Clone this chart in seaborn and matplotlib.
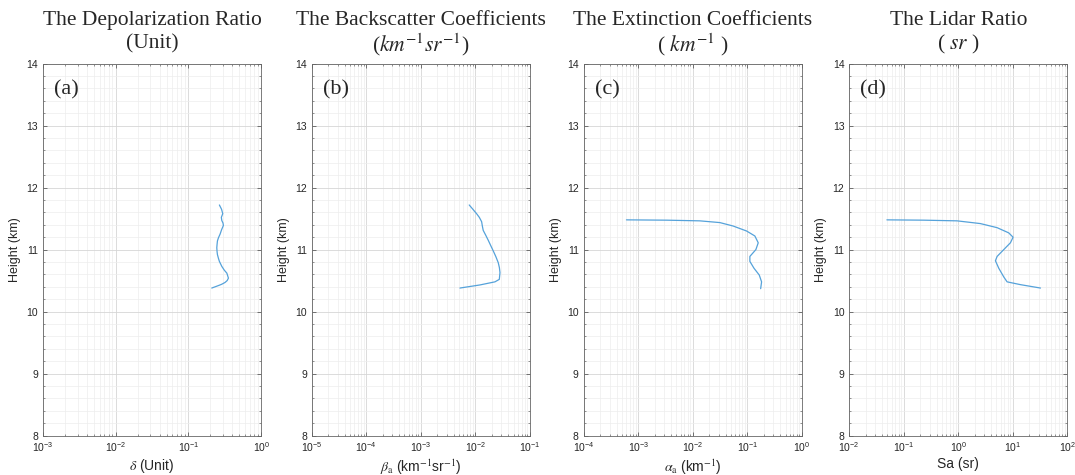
import numpy as np
import pandas as pd
import matplotlib
matplotlib.use('Agg')
import matplotlib.pyplot as plt
import matplotlib.ticker as mticker
import seaborn as sns

# --- data (height in km) ---
depol_h = [11.72, 11.65, 11.58, 11.52, 11.47, 11.43, 11.39, 11.32, 11.25, 11.19, 11.14,
           11.08, 11.03, 10.97, 10.92, 10.86, 10.81, 10.73, 10.67, 10.62, 10.54, 10.50,
           10.47, 10.44, 10.42, 10.38]
depol_x = [0.266, 0.285, 0.296, 0.283, 0.287, 0.298, 0.302, 0.285, 0.272, 0.258, 0.250,
           0.247, 0.245, 0.247, 0.250, 0.258, 0.266, 0.287, 0.310, 0.337, 0.354, 0.340,
           0.318, 0.285, 0.258, 0.209]

back_h = [11.72, 11.65, 11.58, 11.52, 11.45, 11.38, 11.31, 11.23, 11.15, 11.06, 10.98,
          10.89, 10.79, 10.71, 10.63, 10.52, 10.48, 10.43, 10.38]
back_x = [0.0077, 0.0090, 0.0105, 0.0118, 0.0130, 0.0134, 0.0139, 0.0155, 0.0172, 0.0192,
          0.0212, 0.0236, 0.0262, 0.0275, 0.0282, 0.0274, 0.0228, 0.0121, 0.0052]

ext_h = [11.48, 11.475, 11.464, 11.436, 11.38, 11.30, 11.22, 11.11, 11.00, 10.89, 10.81,
         10.70, 10.59, 10.48, 10.37]
ext_x = [6.07e-4, 3.29e-3, 0.0134, 0.0313, 0.055, 0.0967, 0.137, 0.158, 0.143, 0.111,
         0.111, 0.132, 0.165, 0.182, 0.175]

lidar_h = [11.48, 11.475, 11.464, 11.42, 11.354, 11.27, 11.20, 11.11, 11.00, 10.89, 10.82,
           10.70, 10.56, 10.48, 10.435, 10.38]
lidar_x = [0.049, 0.231, 0.946, 2.53, 5.13, 8.38, 10.07, 9.0, 6.79, 5.13, 4.78, 5.5,
           6.79, 7.82, 13.7, 32.0]

title_top = ['The Depolarization Ratio', 'The Backscatter Coefficients',
             'The Extinction Coefficients', 'The Lidar Ratio']
title_unit = ['(Unit)', '($km^{-1}sr^{-1}$)', '( $km^{-1}$ )', '( $sr$ )']
xlabels = [r'$\delta$ (Unit)',
           r'$\beta_{\rm a}$ (km$^{-1}$sr$^{-1}$)',
           r'$\alpha_{\rm a}$ (km$^{-1}$)',
           'Sa (sr)']
panel_tags = ['(a)', '(b)', '(c)', '(d)']
xlims = [(1e-3, 1e0), (1e-5, 1e-1), (1e-4, 1e0), (1e-2, 1e2)]
series = [(depol_x, depol_h), (back_x, back_h), (ext_x, ext_h), (lidar_x, lidar_h)]

sns.set_theme(style='ticks')
plt.rcParams['font.family'] = ['Liberation Sans', 'DejaVu Sans']
plt.rcParams['mathtext.fontset'] = 'stix'

fig = plt.figure(figsize=(10.75, 4.75), dpi=100)
lefts = [0.040, 0.290, 0.543, 0.790]
line_color = '#55a2da'

for i, (xs, hs) in enumerate(series):
    ax = fig.add_axes([lefts[i], 0.083, 0.203, 0.783])
    df = pd.DataFrame({'x': xs, 'h': hs})
    sns.lineplot(data=df, x='x', y='h', sort=False, estimator=None,
                 color=line_color, linewidth=0.9, ax=ax)
    ax.set_xscale('log')
    ax.set_xlim(*xlims[i])
    ax.set_ylim(8, 14)
    ax.xaxis.set_major_locator(mticker.LogLocator(base=10, numticks=10))
    ax.xaxis.set_minor_locator(mticker.LogLocator(base=10, subs=np.arange(2, 10), numticks=20))
    ax.yaxis.set_major_locator(mticker.MultipleLocator(1))
    ax.yaxis.set_minor_locator(mticker.MultipleLocator(0.2))
    ax.grid(which='major', color='#d6d6d6', linewidth=0.6)
    ax.grid(which='minor', color='#ededed', linewidth=0.5)
    ax.set_axisbelow(True)
    ax.tick_params(which='both', direction='in', top=True, right=True,
                   colors='#444444', labelcolor='#262626', labelsize=7.5)
    ax.tick_params(which='major', length=3, width=0.5)
    ax.tick_params(which='minor', length=1.6, width=0.4)
    for sp in ax.spines.values():
        sp.set_color('#666666')
        sp.set_linewidth(0.6)
    ax.set_xlabel(xlabels[i], fontsize=10, labelpad=2)
    ax.set_ylabel('Height (km)', fontsize=9, labelpad=4)
    # two-line title, placed line by line so all panels line up
    ax.text(0.5, 1.117, title_top[i], transform=ax.transAxes, family='Liberation Serif',
            fontsize=15.5, ha='center', va='center')
    ax.text(0.5, 1.052, title_unit[i], transform=ax.transAxes, family='Liberation Serif',
            fontsize=15.5, ha='center', va='center')
    ax.text(0.05, 0.955, panel_tags[i], transform=ax.transAxes, family='Liberation Serif',
            fontsize=16, va='top', ha='left')

fig.savefig('out.png', dpi=100)
